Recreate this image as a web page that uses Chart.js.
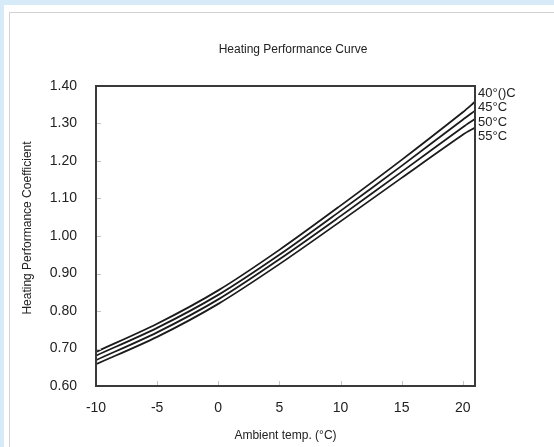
<!DOCTYPE html>
<html>
<head>
<meta charset="utf-8">
<script src="https://cdn.jsdelivr.net/npm/chart.js@4/dist/chart.umd.min.js"></script>
<style>
  html, body { margin: 0; padding: 0; width: 554px; height: 447px; overflow: hidden; background: #d6eaf8; }
  #panel { position: absolute; left: 4px; top: 5px; width: 620px; height: 520px; background: #fff; }
  #frame { position: absolute; left: 9px; top: 12px; width: 620px; height: 520px; border: 1px solid #d2d2d2; background: #fff; }
  #curveChart { position: absolute; left: 0; top: 0; }
</style>
</head>
<body>
<div id="panel"></div>
<div id="frame"></div>
<canvas id="curveChart" width="554" height="447"></canvas>
<script>
// ambient temperature points (°C)
const temps = [-10, -5, 0, 5, 10, 15, 20, 21];

// heating performance coefficient per water temperature
const cop40 = [0.691, 0.766, 0.855, 0.963, 1.081, 1.203, 1.330, 1.358];
const cop45 = [0.681, 0.755, 0.843, 0.950, 1.067, 1.187, 1.310, 1.334];
const cop50 = [0.669, 0.743, 0.831, 0.938, 1.053, 1.171, 1.290, 1.312];
const cop55 = [0.658, 0.731, 0.819, 0.925, 1.039, 1.155, 1.270, 1.289];

const curveLabels = ['40°()C', '45°C', '50°C', '55°C'];
const xTicks = [-10, -5, 0, 5, 10, 15, 20];
const yTicks = [0.6, 0.7, 0.8, 0.9, 1.0, 1.1, 1.2, 1.3, 1.4];

const FONT = '"Liberation Sans", Arial, sans-serif';
const ctx = document.getElementById('curveChart').getContext('2d');

function toPoints(vals) {
    return temps.map((t, i) => ({x: t, y: vals[i]}));
}

function makeSet(label, vals) {
    return {
        label: label,
        data: toPoints(vals),
        borderColor: '#1b1b1b',
        borderWidth: 1.8,
        pointRadius: 0,
        fill: false,
        tension: 0.3
    };
}

// frame, inward tick marks, title and curve names
const decorations = {
    id: 'decorations',
    afterDatasetsDraw(chart) {
        const c = chart.ctx;
        const a = chart.chartArea;
        const xs = chart.scales.x;
        const ys = chart.scales.y;
        c.save();
        c.strokeStyle = '#c4c4c4';
        c.lineWidth = 1;
        xTicks.forEach(v => {
            const px = Math.round(xs.getPixelForValue(v)) + 0.5;
            c.beginPath();
            c.moveTo(px, a.bottom);
            c.lineTo(px, a.bottom - 5);
            c.stroke();
        });
        yTicks.forEach(v => {
            const py = Math.round(ys.getPixelForValue(v)) + 0.5;
            c.beginPath();
            c.moveTo(a.left, py);
            c.lineTo(a.left + 5, py);
            c.stroke();
        });
        c.strokeStyle = '#3a3a3a';
        c.lineWidth = 2;
        c.strokeRect(a.left, a.top, a.right - a.left, a.bottom - a.top);

        c.fillStyle = '#222';
        c.font = '12px ' + FONT;
        c.textAlign = 'center';
        c.textBaseline = 'middle';
        c.fillText('Heating Performance Curve', 293, 50);

        c.save();
        c.translate(28, 228);
        c.rotate(-Math.PI / 2);
        c.fillText('Heating Performance Coefficient', 0, 0);
        c.restore();

        c.font = '13px ' + FONT;
        c.textAlign = 'left';
        curveLabels.forEach((t, i) => {
            c.fillText(t, a.right + 3, a.top + 7 + i * 14.5);
        });
        c.restore();
    }
};

const chart = new Chart(ctx, {
    type: 'line',
    data: {
        datasets: [
            makeSet('40', cop40),
            makeSet('45', cop45),
            makeSet('50', cop50),
            makeSet('55', cop55)
        ]
    },
    options: {
        responsive: false,
        animation: false,
        devicePixelRatio: 1,
        layout: {
            padding: {top: 86, right: 79, bottom: 0, left: 0}
        },
        plugins: {
            legend: {display: false},
            tooltip: {enabled: false},
            title: {display: false}
        },
        scales: {
            x: {
                type: 'linear',
                min: -10,
                max: 21,
                afterBuildTicks: s => { s.ticks = xTicks.map(v => ({value: v})); },
                afterFit: s => { s.height = 61; },
                grid: {display: false, drawTicks: false},
                border: {display: false},
                ticks: {
                    color: '#222',
                    font: {family: FONT, size: 14},
                    padding: 14,
                    maxRotation: 0
                },
                title: {
                    display: true,
                    text: 'Ambient temp. (°C)',
                    color: '#222',
                    font: {family: FONT, size: 12},
                    padding: {top: 0, bottom: 4}
                }
            },
            y: {
                min: 0.6,
                max: 1.4,
                afterBuildTicks: s => { s.ticks = yTicks.map(v => ({value: v})); },
                afterFit: s => { s.width = 96; },
                grid: {display: false, drawTicks: false},
                border: {display: false},
                ticks: {
                    color: '#222',
                    font: {family: FONT, size: 14},
                    padding: 19,
                    callback: v => Number(v).toFixed(2)
                }
            }
        }
    },
    plugins: [decorations]
});
</script>
</body>
</html>
